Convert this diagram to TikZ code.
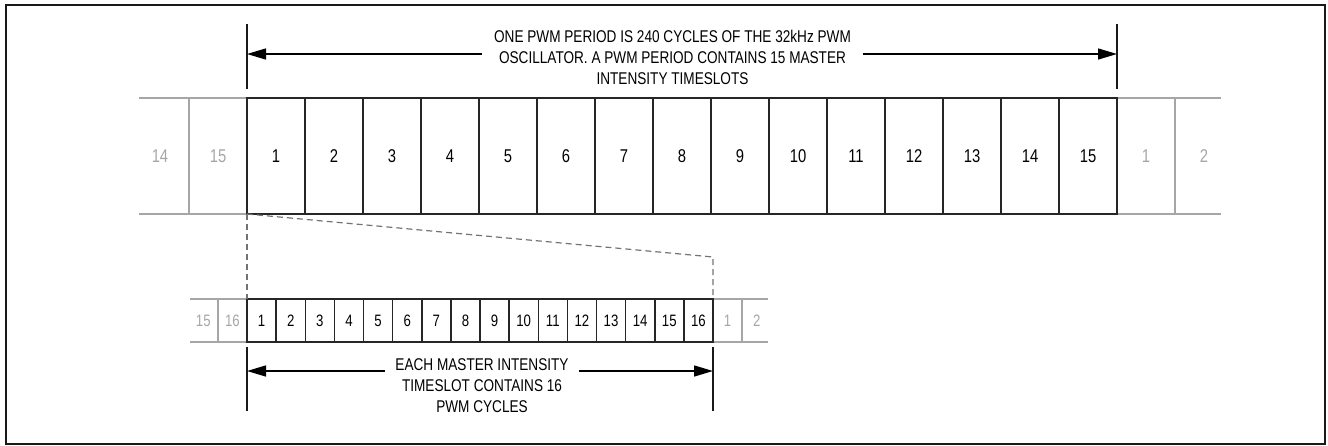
\documentclass[tikz,border=0pt]{standalone}
\usepackage{fontspec}
\setmainfont{Liberation Sans}[FakeStretch=0.8]
\usetikzlibrary{arrows.meta}

\begin{document}
\begin{tikzpicture}[x=1pt,y=-1pt,>={Triangle[length=19pt,width=11pt]},
  slot/.style={draw=black!85,line width=1.5pt,minimum width=58pt,minimum height=116pt,inner sep=0pt,outer sep=0pt,font=\fontsize{18.5}{18.5}\selectfont},
  ghost/.style={minimum width=58pt,minimum height=116pt,inner sep=0pt,outer sep=0pt,text=black!35,font=\fontsize{18.5}{18.5}\selectfont},
  cyc/.style={slot,minimum width=29.125pt,minimum height=43pt,font=\fontsize{16.5}{16.5}\selectfont},
  ghostcyc/.style={ghost,minimum width=29.125pt,minimum height=43pt,font=\fontsize{16.5}{16.5}\selectfont},
  ghostline/.style={draw=black!35,line width=1.5pt},
  zoomline/.style={draw=black!55,line width=1.2pt,dash pattern=on 6pt off 4pt},
  tick/.style={draw=black!90,line width=1.6pt},
  dim/.style={draw=black,line width=1.4pt},
  note/.style={align=center,inner sep=0pt,font=\fontsize{17}{21}\selectfont}]
  \useasboundingbox (0,0) rectangle (1328,445);
  \draw[black!90,line width=2pt] (6,4.5) rectangle (1325,443.5);

  % master intensity timeslots
  \node[ghost] (tl14) at (160,156) {14};
  \node[ghost] (tl15) at (218,156) {15};
  \node[ghost] (tr1) at (1146,156) {1};
  \node[ghost] (tr2) at (1204,156) {2};
  \draw[ghostline] (139,98) -- (tl15.north east) (139,214) -- (tl15.south east) (tl15.north west) -- (tl15.south west);
  \draw[ghostline] (tr1.north west) -- (1221,98) (tr1.south west) -- (1221,214) (tr1.north east) -- (tr1.south east);
  \foreach \i in {1,...,15}
    \node[slot] (t\i) at ({218+58*\i},156) {\i};

  % pwm cycles
  \node[ghostcyc] (bl15) at (203.3,320.5) {15};
  \node[ghostcyc] (bl16) at (232.4,320.5) {16};
  \node[ghostcyc] (br1) at (727.6,320.5) {1};
  \node[ghostcyc] (br2) at (756.7,320.5) {2};
  \draw[ghostline] (190,299) -- (bl16.north east) (190,342) -- (bl16.south east) (bl16.north west) -- (bl16.south west);
  \draw[ghostline] (br1.north west) -- (768,299) (br1.south west) -- (768,342) (br1.north east) -- (br1.south east);
  \foreach \i in {1,...,16}
    \node[cyc] (b\i) at ({232.4375+29.125*\i},320.5) {\i};

  % zoom
  \coordinate (zk) at (713,257);
  \draw[zoomline] (t1.south west) -- (b1.north west);
  \draw[zoomline] (t1.south west) -- (zk) -- (b16.north east);

  % period arrow
  \coordinate (ta) at (247,54);
  \coordinate (tb) at (1117,54);
  \draw[tick] (247,24) -- (247,89) (1117,24) -- (1117,89);
  \node[note,minimum width=381pt] (period) at (672.5,57) {ONE PWM PERIOD IS 240 CYCLES OF THE 32kHz PWM\\OSCILLATOR. A PWM PERIOD CONTAINS 15 MASTER\\INTENSITY TIMESLOTS};
  \draw[dim,->] (period.west |- ta) -- (ta);
  \draw[dim,->] (period.east |- tb) -- (tb);

  % timeslot arrow
  \coordinate (ba) at (247,371);
  \coordinate (bb) at (713,371);
  \draw[tick] (247,347) -- (247,411) (713,347) -- (713,411);
  \node[note,minimum width=194pt] (slotlen) at (482,385.5) {EACH MASTER INTENSITY\\TIMESLOT CONTAINS 16\\PWM CYCLES};
  \draw[dim,->] (slotlen.west |- ba) -- (ba);
  \draw[dim,->] (slotlen.east |- bb) -- (bb);
\end{tikzpicture}
\end{document}
